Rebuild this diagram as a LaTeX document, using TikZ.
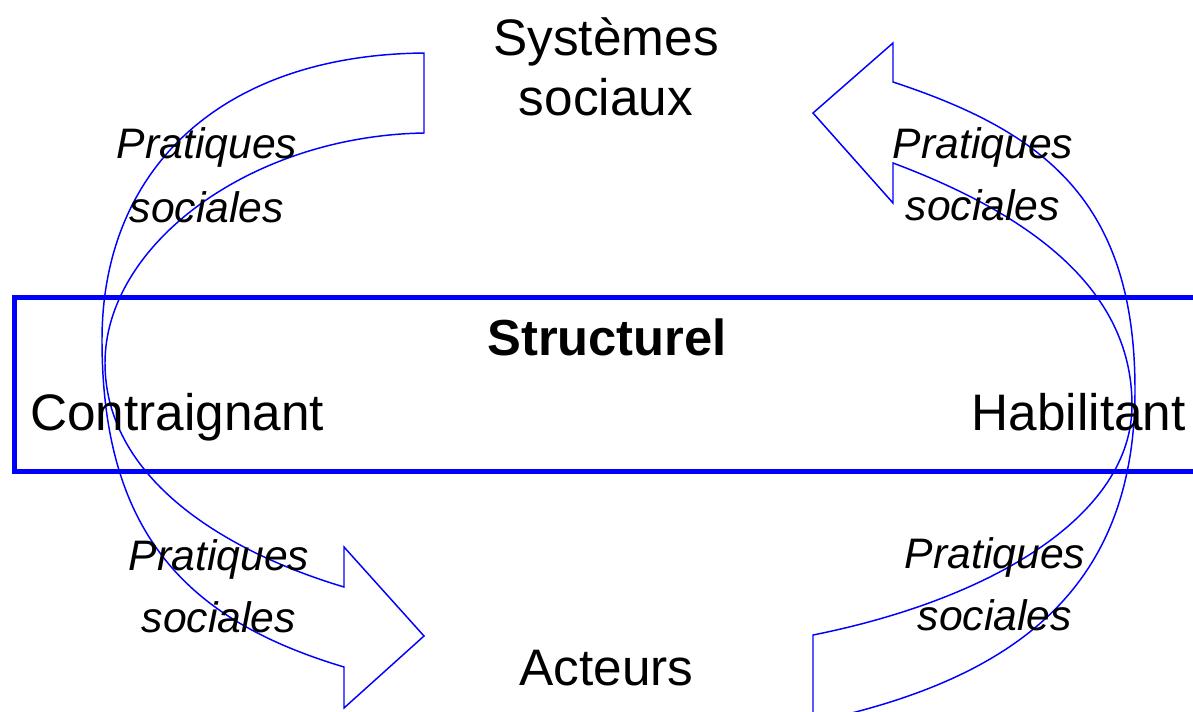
\documentclass[tikz,border=0pt]{standalone}
\usepackage{fontspec}
\setmainfont{Liberation Sans}
\definecolor{arrowblue}{RGB}{0,0,255}
\begin{document}
\begin{tikzpicture}[x=0.75pt,y=-0.75pt,
  band/.style={draw=arrowblue, line width=1.1pt, line join=miter},
  frame/.style={draw=arrowblue, line width=3.75pt},
  big/.style={inner sep=0pt, font=\fontsize{38.5}{46}\selectfont},
  bigb/.style={inner sep=0pt, font=\fontsize{38}{46}\selectfont\bfseries},
  prat/.style={inner sep=0pt, font=\fontsize{32}{46}\selectfont\itshape}]
\useasboundingbox (0,0) rectangle (1193,711);
\clip (0,0) rectangle (1193,711);

% left curved arrow (downwards)
\draw[band] (424,133)
  .. controls (250,136) and (105,245) .. (105,363)
  .. controls (105,473) and (214,548) .. (344,587)
  -- (344,547) -- (424,636) -- (344,708) -- (344,667)
  .. controls (194,622) and (102,540) .. (102,340)
  .. controls (102,170) and (220,55) .. (424,53)
  -- cycle;

% right curved arrow (upwards)
\draw[band] (893,163)
  .. controls (1023,211.75) and (1132,285) .. (1132,405)
  .. controls (1132,515) and (993,599) .. (813,635)
  -- (813,722)
  .. controls (1013,680) and (1135,590) .. (1135,390)
  .. controls (1135,200) and (1043,131.5) .. (893,82)
  -- (893,43) -- (813,113) -- (893,203) -- cycle;

% structural band
\draw[frame] (1210,297.5) -- (14,297.5) -- (14,471.5) -- (1210,471.5);

% texts
\node[big, anchor=base] (sys1) at (606,55) {Systèmes};
\node[big, anchor=base] (sys2) at (606,115) {sociaux};
\node[bigb, anchor=base] (struct) at (607,355) {Structurel};
\node[big, anchor=base west] (contr) at (30,430) {Contraignant};
\node[big, anchor=base east] (habil) at (1186,430) {Habilitant};
\node[big, anchor=base] (act) at (606.5,685) {Acteurs};

\node[prat, anchor=base] (tl1) at (207,158) {Pratiques};
\node[prat, anchor=base] (tl2) at (207,222) {sociales};
\node[prat, anchor=base] (tr1) at (983,158) {Pratiques};
\node[prat, anchor=base] (tr2) at (983,220) {sociales};
\node[prat, anchor=base] (bl1) at (219,570) {Pratiques};
\node[prat, anchor=base] (bl2) at (219,632) {sociales};
\node[prat, anchor=base] (br1) at (995,568) {Pratiques};
\node[prat, anchor=base] (br2) at (995,630) {sociales};
\end{tikzpicture}
\end{document}
